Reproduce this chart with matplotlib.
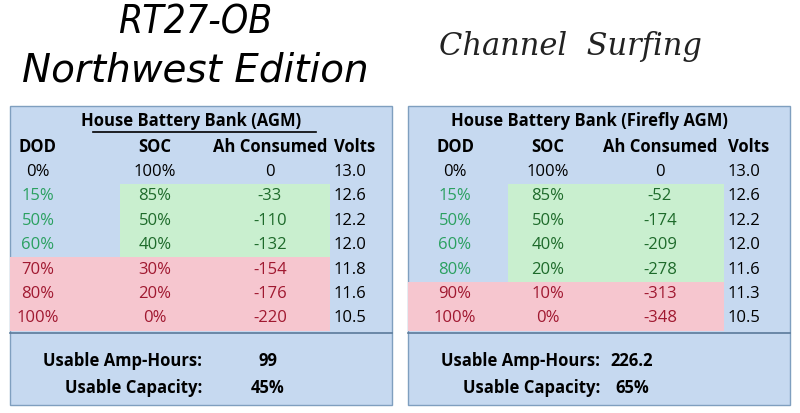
import matplotlib.pyplot as plt
from matplotlib.patches import Rectangle

# data
dod_agm = ["0%", "15%", "50%", "60%", "70%", "80%", "100%"]
soc_agm = ["100%", "85%", "50%", "40%", "30%", "20%", "0%"]
ah_agm = [0, -33, -110, -132, -154, -176, -220]
volts_agm = [13.0, 12.6, 12.2, 12.0, 11.8, 11.6, 10.5]
zone_agm = ["n", "g", "g", "g", "r", "r", "r"]

dod_ff = ["0%", "15%", "50%", "60%", "80%", "90%", "100%"]
soc_ff = ["100%", "85%", "50%", "40%", "20%", "10%", "0%"]
ah_ff = [0, -52, -174, -209, -278, -313, -348]
volts_ff = [13.0, 12.6, 12.2, 12.0, 11.6, 11.3, 10.5]
zone_ff = ["n", "g", "g", "g", "g", "r", "r"]

BG = "#c6d9f0"
GREEN_BG = "#c9efcf"
RED_BG = "#f6c6cf"
DOD_COL = {"n": "black", "g": "#2aa060", "r": "#a01830"}
VAL_COL = {"n": "black", "g": "#1d6a2a", "r": "#a01830"}

fig = plt.figure(figsize=(8, 4.13), dpi=100)
ax = fig.add_axes([0, 0, 1, 1])
ax.set_xlim(0, 800)
ax.set_ylim(413, 0)
ax.axis("off")

FONT = "Open Sans"
FS = 12


def table(x0, title, dod, soc, ah, volts, zone, usable, cap, cols, vx, ul):
    w = 382
    ax.add_patch(Rectangle((x0, 106), w, 299, fc=BG, ec="#7f9fbf", lw=1))
    ax.text(x0 + w / 2 - 10, 121, title, ha="center", va="center",
            fontsize=FS, fontweight="bold", family=FONT)
    if ul:
        ax.plot([x0 + 83, x0 + 306], [132, 132], color="black", lw=1.2)
    cd, cs, ca, cv, hl = cols
    hy = 147
    for lab, cx in zip(["DOD", "SOC", "Ah Consumed"], [cd, cs, ca]):
        ax.text(x0 + cx, hy, lab, ha="center", va="center", fontsize=FS,
                fontweight="bold", family=FONT)
    ax.text(x0 + cv, hy, "Volts", ha="left", va="center", fontsize=FS,
            fontweight="bold", family=FONT)
    rh = 24.4
    for i in range(len(dod)):
        y = 172 + i * rh
        z = zone[i]
        if z == "g":
            ax.add_patch(Rectangle((x0 + hl, y - rh / 2), cv - 4 - hl, rh,
                                   fc=GREEN_BG, ec="none"))
        elif z == "r":
            ax.add_patch(Rectangle((x0, y - rh / 2), cv - 4, rh,
                                   fc=RED_BG, ec="none"))
        ax.text(x0 + cd, y, dod[i], ha="center", va="center", fontsize=FS,
                color=DOD_COL[z], family=FONT)
        ax.text(x0 + cs, y, soc[i], ha="center", va="center", fontsize=FS,
                color=VAL_COL[z], family=FONT)
        ax.text(x0 + ca, y, str(ah[i]), ha="center", va="center", fontsize=FS,
                color=VAL_COL[z], family=FONT)
        ax.text(x0 + cv, y, f"{volts[i]:.1f}", ha="left", va="center",
                fontsize=FS, family=FONT)
    ax.plot([x0, x0 + w], [333, 333], color="#5a7a9a", lw=1.2)
    lx = x0 + 192
    ax.text(lx, 361, "Usable Amp-Hours:", ha="right", va="center",
            fontsize=FS, fontweight="bold", family=FONT)
    ax.text(lx, 388, "Usable Capacity:", ha="right", va="center",
            fontsize=FS, fontweight="bold", family=FONT)
    ax.text(x0 + vx, 361, usable, ha="center", va="center",
            fontsize=FS, fontweight="bold", family=FONT)
    ax.text(x0 + vx, 388, cap, ha="center", va="center",
            fontsize=FS, fontweight="bold", family=FONT)


table(10, "House Battery Bank (AGM)", dod_agm, soc_agm, ah_agm, volts_agm,
      zone_agm, "99", "45%", (28, 145, 260, 324, 110), 258, True)
table(408, "House Battery Bank (Firefly AGM)", dod_ff, soc_ff, ah_ff, volts_ff,
      zone_ff, "226.2", "65%", (47, 140, 252, 320, 100), 224, False)

ax.text(195, 22, "RT27-OB", ha="center", va="center", fontsize=28,
        style="italic", family="DejaVu Sans", fontstretch="condensed")
ax.text(195, 70, "Northwest Edition", ha="center", va="center", fontsize=28,
        style="italic", family="DejaVu Sans")
ax.text(570, 46, "Channel  Surfing", ha="center", va="center", fontsize=22,
        style="italic", family="DejaVu Serif", color="#222222")

fig.savefig("out.png", dpi=100)
